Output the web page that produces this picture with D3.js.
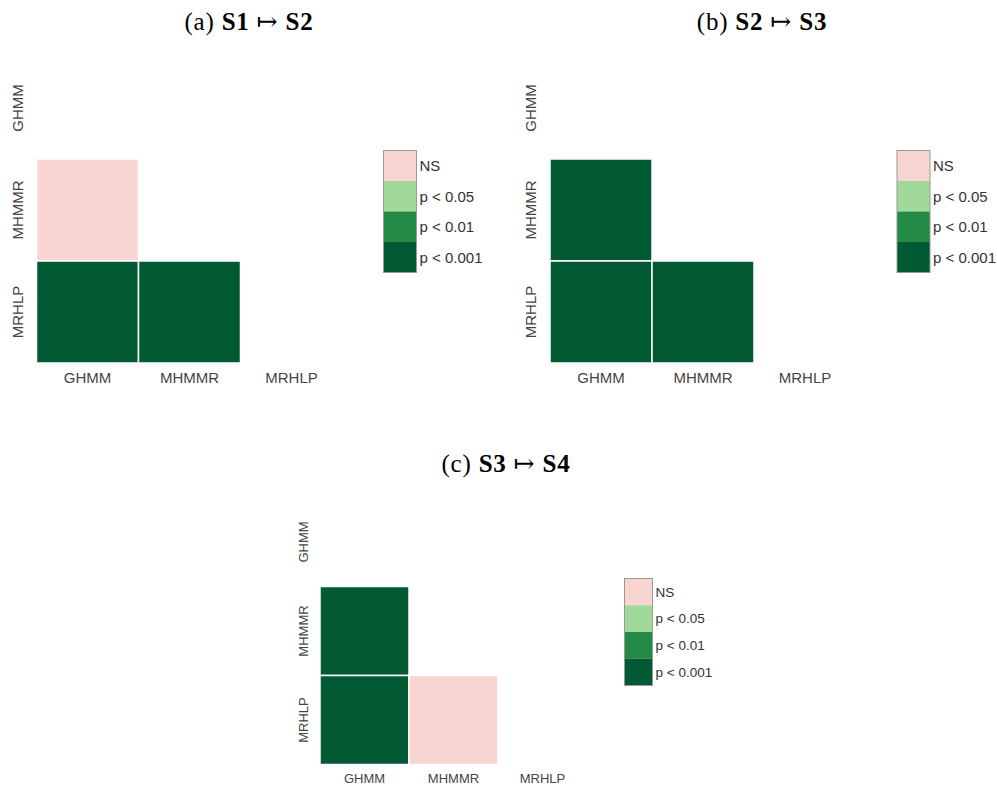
<!DOCTYPE html>
<html><head><meta charset="utf-8">
<script src="https://cdn.jsdelivr.net/npm/d3@7"></script>
<style>body{margin:0;background:#fff}</style>
</head><body>
<script>
const categories = ["GHMM", "MHMMR", "MRHLP"];
const levels = ["NS", "p < 0.05", "p < 0.01", "p < 0.001"];
const levelColors = ["#f9d5d2", "#a1d99b", "#248b46", "#015a33"];
// lower-triangle cells: [row, col, level]
const cellsA = [["MHMMR","GHMM","NS"],["MRHLP","GHMM","p < 0.001"],["MRHLP","MHMMR","p < 0.001"]];
const cellsB = [["MHMMR","GHMM","p < 0.001"],["MRHLP","GHMM","p < 0.001"],["MRHLP","MHMMR","p < 0.001"]];
const cellsC = [["MHMMR","GHMM","p < 0.001"],["MRHLP","GHMM","p < 0.001"],["MRHLP","MHMMR","NS"]];
const titleLabel = ["(a) ", "(b) ", "(c) "];
const titleFrom = ["S1", "S2", "S3"];
const titleTo = ["S2", "S3", "S4"];

const W = 997, H = 787;
const svg = d3.select("body").append("svg").attr("width", W).attr("height", H);
const color = d3.scaleOrdinal().domain(levels).range(levelColors);

const layouts = [
  {cells: cellsA, gx: 36.5, gy: 57, cell: 102, titleX: 249, titleY: 30, fs: 15, lfs: 15, lx: 383.5, ly: 150.5, lw: 33, lh: 122, labY: 378, labX: 18},
  {cells: cellsB, gx: 550, gy: 57, cell: 102, titleX: 762, titleY: 30, fs: 15, lfs: 15, lx: 897, ly: 150.5, lw: 33, lh: 122, labY: 378, labX: 531},
  {cells: cellsC, gx: 320, gy: 497.5, cell: 89, titleX: 506, titleY: 472, fs: 13, lfs: 13.5, lx: 624.5, ly: 578.5, lw: 28, lh: 107, labY: 778, labX: 303}
];

layouts.forEach((L, i) => {
  const g = svg.append("g");
  const x = d3.scaleBand().domain(categories).range([L.gx, L.gx + 3 * L.cell]);
  const y = d3.scaleBand().domain(categories).range([L.gy, L.gy + 3 * L.cell]);

  // title
  const t = g.append("text").attr("x", L.titleX).attr("y", L.titleY)
    .attr("text-anchor", "middle").attr("font-family", "'Liberation Serif', 'DejaVu Serif', serif")
    .attr("font-size", 25).attr("letter-spacing", 0.8).attr("fill", "#000");
  t.append("tspan").text(titleLabel[i]);
  t.append("tspan").attr("font-weight", "bold").text(titleFrom[i]);
  t.append("tspan").text(" \u21A6 ");
  t.append("tspan").attr("font-weight", "bold").text(titleTo[i]);

  // cells
  g.selectAll("rect.cell").data(L.cells).join("rect").attr("class", "cell")
    .attr("x", d => x(d[1])).attr("y", d => y(d[0]))
    .attr("width", x.bandwidth()).attr("height", y.bandwidth())
    .attr("fill", d => color(d[2])).attr("stroke", "#fff").attr("stroke-width", 1.5);

  // x labels
  g.selectAll("text.xl").data(categories).join("text").attr("class", "xl")
    .attr("x", d => x(d) + x.bandwidth() / 2).attr("y", L.labY)
    .attr("dy", "0.35em").attr("text-anchor", "middle")
    .attr("font-family", "'Liberation Sans', Arial, sans-serif").attr("font-size", L.fs)
    .attr("fill", "#444").text(d => d);

  // y labels
  g.selectAll("text.yl").data(categories).join("text").attr("class", "yl")
    .attr("transform", d => `translate(${L.labX},${y(d) + y.bandwidth() / 2}) rotate(-90)`)
    .attr("dy", "0.35em").attr("text-anchor", "middle")
    .attr("font-family", "'Liberation Sans', Arial, sans-serif").attr("font-size", L.fs)
    .attr("fill", "#444").text(d => d);

  // legend
  const ls = d3.scaleBand().domain(levels).range([L.ly, L.ly + L.lh]);
  g.selectAll("rect.leg").data(levels).join("rect").attr("class", "leg")
    .attr("x", L.lx).attr("y", d => ls(d)).attr("width", L.lw).attr("height", ls.bandwidth())
    .attr("fill", d => color(d));
  g.append("rect").attr("x", L.lx).attr("y", L.ly).attr("width", L.lw).attr("height", L.lh)
    .attr("fill", "none").attr("stroke", "#999").attr("stroke-width", 1);
  g.selectAll("text.leg").data(levels).join("text").attr("class", "leg")
    .attr("x", L.lx + L.lw + 3).attr("y", d => ls(d) + ls.bandwidth() / 2)
    .attr("dy", "0.35em").attr("font-family", "'Liberation Sans', Arial, sans-serif")
    .attr("font-size", L.lfs).attr("fill", "#333").text(d => d);
});
</script>
</body></html>
